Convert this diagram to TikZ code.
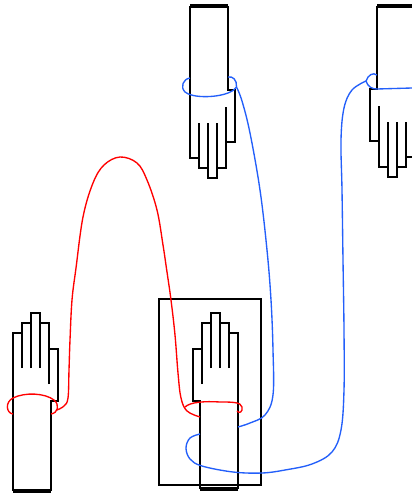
\documentclass[tikz,border=0pt]{standalone}
\begin{document}
\definecolor{ropeblue}{RGB}{35,95,250}
\definecolor{ropered}{RGB}{255,0,0}
\begin{tikzpicture}[x=1pt,y=-1pt,
  outline/.style={line width=2.7pt, line join=miter},
  capbar/.style={line width=4pt},
  bluerope/.style={draw=ropeblue, line width=1.35pt},
  redrope/.style={draw=ropered, line width=1.35pt},
  % a hand with its forearm: wrist at the origin, fingers toward +y,
  % thumb on the +x side, forearm of length #1 toward -y
  pics/hand/.style={code={
    \draw[outline] (38,-#1) -- (38,0) -- (45,0) -- (45,52) -- (36,52) -- (36,78)
      -- (27,78) -- (27,88) -- (18,88) -- (18,78) -- (9,78) -- (9,68) -- (0,68) -- (0,-#1);
    \draw[outline] (9,33) -- (9,68) (18,33) -- (18,78) (27,33) -- (27,78) (36,17) -- (36,52);
    \draw[capbar] (0,-#1) -- (38,-#1);
  }}]
\clip (0,0) rectangle (412,493);
\fill[white] (0,0) rectangle (412,493);

% frame around the lower middle hand
\draw[outline] (159,299) rectangle (261,485);

% hands
\pic at (190,90) {hand=84};
\pic[xscale=-1] at (415,89) {hand=83};
\pic[yscale=-1] at (13,401) {hand=90};
\pic[xscale=-1,yscale=-1] at (238,401) {hand=88};

% blue cord: loop on the upper left wrist
\draw[bluerope] (190,78) .. controls (183,79) and (180,87) .. (185,92)
  .. controls (192,98) and (215,98) .. (228,93) .. controls (232,91) and (235,90) .. (236.5,87);
\draw[bluerope] (228,77) .. controls (233,76) and (237,80) .. (236.5,87);
% down to the framed forearm
\draw[bluerope] plot[smooth,tension=0.6] coordinates {(236.5,87) (242,101) (250,133) (260,190)
  (267,250) (271,300) (273,350) (273,395) (265,415) (250,423) (238,427)};
% round the forearm and up to the upper right wrist
\draw[bluerope] plot[smooth,tension=0.6] coordinates {(200,434) (190,438) (186,448) (190,459)
  (202,466) (233,472) (262,473) (285,470) (312,464) (332,452) (341,430) (344,390) (344,330)
  (343,260) (342,190) (341,140) (344,108) (352,90) (366,81)};
\draw[bluerope] (366,81) .. controls (368,75) and (373,72) .. (377,75);
\draw[bluerope] (366,81) .. controls (368,87) and (372,89) .. (377,89) -- (412,88);

% red cord: loop on the lower left wrist
\draw[redrope] (13,414) .. controls (6,413) and (5,402) .. (13,398)
  .. controls (25,392) and (45,393) .. (54,400) .. controls (60,405) and (58,413) .. (51,414);
% arch over to the framed hand
\draw[redrope] plot[smooth,tension=0.6] coordinates {(57,410) (64,406) (68,398) (69,370) (70,340)
  (72,300) (76,268) (83,217) (93,183) (104,165) (120,157) (137,163) (147,180) (157,210)
  (163,245) (167,272) (171,300) (175,335) (178,373) (181,398) (187,411) (200,417)};
% loop on the framed wrist
\draw[redrope] (185,407) .. controls (190,402) and (205,401) .. (220,402)
  .. controls (232,402) and (241,402) .. (242,407) .. controls (243,412) and (239,414) .. (237,411);
\end{tikzpicture}
\end{document}
